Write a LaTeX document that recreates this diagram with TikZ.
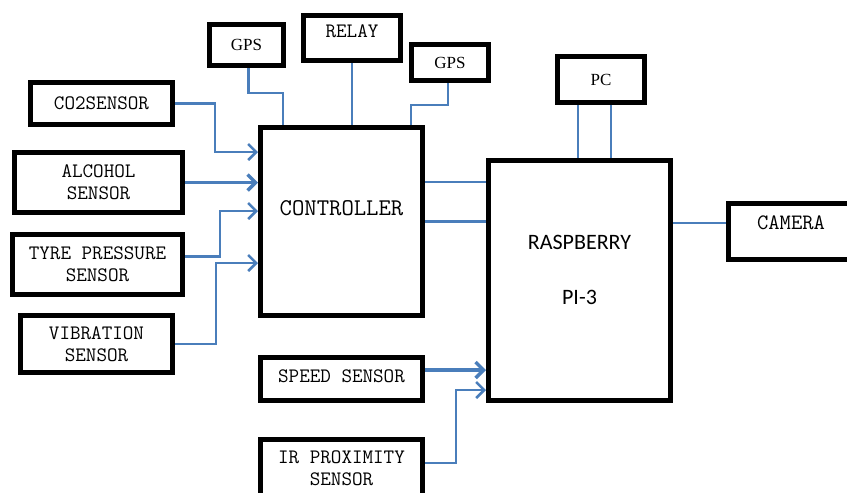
\documentclass[tikz,border=0pt]{standalone}
\usepackage{fontspec}
\setmainfont{Liberation Serif}
\newfontfamily\rasfont{Carlito}
\usetikzlibrary{arrows.meta, positioning}
\definecolor{wireblue}{HTML}{4A7EBB}

\begin{document}
\begin{tikzpicture}[x=1pt, y=-1pt,
        blk/.style={draw, line width=5pt, inner sep=0pt, align=center,
            font=\ttfamily\fontsize{20.5}{22}\selectfont},
        gpsblk/.style={blk, font=\rmfamily\fontsize{17}{20}\selectfont},
        wire/.style={draw=wireblue, line width=2.5pt},
        feed/.style={wire, -{Straight Barb[length=8pt, width=16pt]}}]
        \path[use as bounding box, clip] (0,0) rectangle (847,493);

        % Nodes
        \node (co2) [blk, minimum width=142, minimum height=42] at (101.5,103.5) {CO2SENSOR};
        \node (alc) [blk, minimum width=168, minimum height=60] at (98.5,182.5) {ALCOHOL\\SENSOR};
        \node (tyre) [blk, minimum width=170, minimum height=60] at (97.5,264.5) {TYRE PRESSURE\\SENSOR};
        \node (vib) [blk, minimum width=152, minimum height=57] at (96.5,344) {VIBRATION\\SENSOR};
        \node (gpsa) [gpsblk, minimum width=74, minimum height=41] at (246.5,45) {GPS};
        \node (relay) [blk, minimum width=97, minimum height=45, text depth=13pt] at (352,38) {RELAY};
        \node (gpsb) [gpsblk, minimum width=77, minimum height=36] at (450,62.5) {GPS};
        \node (ctrl) [blk, minimum width=162, minimum height=188, text depth=27pt,
            font=\ttfamily\fontsize{24}{26}\selectfont] at (341.5,221.5) {CONTROLLER};
        \node (pc) [gpsblk, minimum width=87, minimum height=46] at (601,79.5) {PC};
        \node (ras) [blk, minimum width=182, minimum height=240] at (579.5,280.5) {};
        \node (raslbl) [align=center, font=\rasfont\fontsize{22}{25}\selectfont]
            at ([yshift=11pt]ras.center) {RASPBERRY\\[30pt]PI-3};
        \node (cam) [blk, minimum width=125, minimum height=56, text depth=17pt,
            font=\ttfamily\fontsize{22}{24}\selectfont] at (791,231.5) {CAMERA};
        \node (speed) [blk, minimum width=162, minimum height=43, text depth=6pt] at (341.5,379) {SPEED SENSOR};
        \node (ir) [blk, minimum width=162, minimum height=58] at (341.5,468.5) {IR PROXIMITY\\SENSOR};

        % Arrows into the controller
        \draw[feed] (co2.east) -- ++(40,0) |- ([yshift=69.5pt]ctrl.west);
        \draw[feed, line width=3.5pt] (alc.east) -- (alc.east -| ctrl.west);
        \draw[feed] ([yshift=8pt]tyre.east) -- ++(35,0) |- ([yshift=10.5pt]ctrl.west);
        \draw[feed] (vib.east) -- ++(41,0) |- ([yshift=-41.5pt]ctrl.west);

        % Links on top
        \draw[wire] ([xshift=2pt]gpsa.south) -- ++(0,25) -| ([xshift=-58.5pt]ctrl.north);
        \draw[wire] (relay.south) -- (relay.south |- ctrl.north);
        \draw[wire] ([xshift=-2pt]gpsb.south) -- ++(0,22) -| ([xshift=69.5pt]ctrl.north);
        \draw[wire] ([xshift=-23pt]pc.south) -- ([xshift=-23pt]pc.south |- ras.north);
        \draw[wire] ([xshift=10pt]pc.south) -- ([xshift=10pt]pc.south |- ras.north);

        % Controller, camera and raspberry
        \draw[wire] ([yshift=39.5pt]ctrl.east) -- ([yshift=39.5pt]ctrl.east -| ras.west);
        \draw[wire] (ctrl.east) -- (ctrl.east -| ras.west);
        \draw[wire] ([yshift=8.5pt]cam.west) -- ([yshift=8.5pt]cam.west -| ras.east);

        % Arrows into the raspberry
        \draw[feed, line width=3.5pt] ([yshift=9pt]speed.east) -- ([yshift=9pt]speed.east -| ras.west);
        \draw[feed] ([yshift=5.5pt]ir.east) -- ++(31,0) |- ([yshift=-109.5pt]ras.west);
    \end{tikzpicture}
\end{document}
